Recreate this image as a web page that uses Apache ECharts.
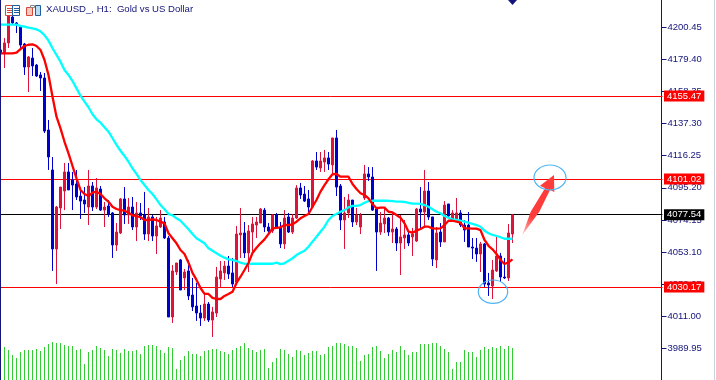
<!DOCTYPE html>
<html>
<head>
<meta charset="utf-8">
<title>XAUUSD H1</title>
<style>
  html, body { margin: 0; padding: 0; background: #fff; }
  #chart { width: 716px; height: 380px; }
</style>
<script src="https://cdn.jsdelivr.net/npm/echarts@6/dist/echarts.min.js"></script>
</head>
<body>
<div id="chart"></div>
<script>
const titleText = 'XAUUSD_, H1:  Gold vs US Dollar';
const tickValues = [4200.45, 4179.40, 4158.35, 4137.30, 4116.25, 4095.20, 4074.15, 4053.10, 4032.05, 4011.00, 3989.95];
const redLevels = [4155.47, 4101.02, 4030.17];
const lastPrice = 4077.54;

// [open, close, low, high]
const candles = [
  [4185.6,4183.6,4183.6,4185.6],[4183.6,4190.2,4173.8,4193.4],[4190.2,4207.9,4186.9,4209.2],[4207.2,4203.3,4202.6,4208.5],
  [4203.3,4202.0,4196.7,4203.9],[4200.6,4188.8,4186.9,4201.3],[4189.5,4174.4,4169.2,4190.2],[4174.4,4181.0,4158.0,4181.6],
  [4180.3,4175.1,4168.5,4186.9],[4175.7,4168.5,4167.9,4176.4],[4169.2,4167.2,4158.7,4171.1],[4167.2,4132.4,4131.1,4170.5],
  [4133.1,4115.4,4106.9,4139.7],[4106.9,4055.1,4040.7,4115.4],[4055.1,4082.6,4032.1,4083.3],[4082.0,4095.7,4068.2,4095.7],
  [4093.1,4105.6,4080.6,4111.5],[4105.6,4093.8,4093.8,4111.5],[4100.3,4097.0,4080.6,4105.6],[4097.7,4089.2,4087.2,4106.9],
  [4089.8,4086.5,4074.8,4093.8],[4087.2,4084.6,4078.7,4095.7],[4082.6,4096.4,4070.8,4106.9],[4096.4,4082.6,4080.0,4099.0],
  [4082.6,4095.1,4081.3,4101.6],[4094.4,4080.6,4080.0,4096.4],[4080.6,4082.6,4069.5,4085.9],[4083.3,4078.0,4076.1,4087.2],
  [4078.7,4057.7,4049.2,4079.3],[4057.7,4066.2,4053.8,4072.1],[4065.6,4087.9,4064.9,4088.5],[4087.9,4077.4,4071.5,4095.7],
  [4077.4,4082.6,4071.5,4088.5],[4082.6,4069.5,4067.5,4089.2],[4069.5,4078.7,4060.3,4085.9],[4078.7,4076.7,4074.1,4085.2],
  [4077.4,4064.9,4061.0,4092.5],[4064.9,4076.1,4060.3,4082.0],[4076.1,4063.6,4060.3,4077.4],[4063.6,4070.2,4051.8,4076.1],
  [4069.5,4075.4,4068.9,4080.6],[4072.8,4062.3,4061.6,4076.1],[4062.3,4010.5,4010.5,4063.6],[4010.5,4040.7,4006.6,4044.6],
  [4040.0,4045.9,4038.0,4045.9],[4047.9,4028.2,4028.2,4048.5],[4036.1,4040.0,4028.2,4042.0],[4040.7,4024.3,4021.6,4047.9],
  [4024.9,4017.1,4014.4,4036.1],[4017.7,4013.1,4007.9,4032.8],[4013.1,4009.8,4004.6,4018.4],[4009.8,4019.0,4007.9,4026.2],
  [4019.0,4008.5,4007.2,4020.3],[4008.5,4013.8,3997.4,4017.1],[4013.1,4036.7,4010.5,4043.3],[4035.4,4040.7,4030.2,4047.2],
  [4039.4,4043.9,4034.8,4047.2],[4043.9,4038.7,4035.4,4050.5],[4039.4,4032.1,4030.2,4049.2],[4033.4,4064.9,4032.8,4070.2],
  [4064.3,4065.6,4049.2,4082.0],[4065.6,4052.5,4049.2,4072.8],[4052.5,4066.9,4040.0,4070.8],[4066.2,4071.5,4052.5,4076.1],
  [4070.8,4072.8,4062.3,4076.1],[4072.1,4081.3,4072.1,4082.0],[4080.6,4069.5,4066.2,4082.0],[4069.5,4066.9,4064.9,4072.1],
  [4066.9,4077.4,4065.6,4078.0],[4077.4,4068.9,4068.2,4078.7],[4069.5,4058.4,4055.7,4072.8],[4058.4,4075.4,4055.1,4080.6],
  [4076.1,4066.2,4065.6,4078.7],[4066.2,4075.4,4064.9,4078.0],[4075.4,4095.1,4074.8,4097.0],[4095.1,4090.5,4087.9,4098.4],
  [4091.1,4086.5,4085.9,4096.4],[4087.9,4082.6,4078.7,4093.8],[4082.6,4112.8,4082.0,4113.4],[4112.8,4108.8,4106.9,4118.7],
  [4108.2,4112.8,4105.6,4118.7],[4112.1,4114.8,4105.6,4120.0],[4114.8,4110.8,4106.9,4118.7],[4110.2,4127.9,4104.9,4127.9],
  [4127.9,4095.7,4089.8,4133.1],[4096.4,4074.1,4067.5,4097.7],[4074.1,4078.7,4055.1,4089.2],[4078.7,4087.2,4075.4,4091.1],
  [4087.2,4072.8,4069.5,4087.2],[4072.8,4077.4,4070.8,4082.0],[4069.5,4077.4,4064.9,4078.7],[4088.5,4104.3,4087.2,4110.2],
  [4104.3,4102.3,4099.7,4108.8],[4102.3,4080.6,4080.0,4108.8],[4081.3,4066.2,4040.7,4082.0],[4066.2,4072.1,4064.3,4079.3],
  [4071.5,4075.4,4065.6,4082.0],[4075.4,4066.2,4063.6,4076.1],[4066.2,4068.2,4059.0,4079.3],[4068.2,4059.0,4053.8,4069.5],
  [4059.0,4063.0,4038.0,4077.4],[4062.3,4064.3,4055.1,4074.1],[4064.3,4059.0,4057.0,4066.2],[4063.0,4064.9,4050.5,4068.9],
  [4060.3,4081.3,4059.7,4082.0],[4081.3,4079.3,4068.9,4095.7],[4079.3,4093.1,4069.5,4106.9],[4093.1,4076.1,4074.1,4099.0],
  [4076.1,4048.5,4043.9,4076.1],[4047.9,4065.6,4042.6,4069.5],[4066.2,4059.7,4056.4,4072.1],[4059.7,4083.9,4059.7,4086.5],
  [4084.6,4076.7,4076.1,4084.6],[4074.1,4078.7,4072.8,4080.6],[4074.8,4078.7,4074.1,4088.5],[4078.7,4070.8,4069.5,4080.6],
  [4070.8,4067.5,4059.7,4074.1],[4070.8,4056.4,4056.4,4079.3],[4056.4,4055.7,4048.5,4062.3],[4055.7,4051.8,4046.6,4062.3],
  [4051.8,4058.4,4040.0,4059.7],[4058.4,4032.1,4030.2,4059.0],[4032.8,4031.5,4024.3,4039.4],[4030.8,4041.3,4022.3,4047.9],
  [4040.7,4050.5,4040.0,4063.0],[4050.5,4036.7,4033.4,4052.5],[4036.7,4036.1,4035.4,4049.2],[4036.1,4065.6,4034.1,4071.5],
  [4064.9,4077.54,4059.0,4077.54]
];

const redMa = [
  4183.4,4183.4,4183.4,4183.4,4183.8,4186.2,4188.2,4189.0,4189.3,4188.2,4185.6,4179.0,4169.2,4154.9,4141.8,4134.2,
  4125.4,4117.8,4109.5,4101.4,4093.8,4091.1,4089.8,4092.0,4092.7,4091.1,4088.3,4086.1,4082.8,4081.3,4080.6,4080.2,
  4078.9,4077.2,4076.7,4075.9,4074.1,4074.1,4074.5,4074.1,4073.0,4071.9,4065.4,4062.1,4058.8,4054.4,4051.8,4046.1,
  4039.4,4034.8,4029.5,4025.6,4025.6,4023.0,4022.3,4022.3,4024.3,4025.6,4027.1,4032.8,4036.9,4041.3,4045.9,4052.5,
  4055.9,4058.8,4061.4,4064.9,4068.6,4069.0,4069.3,4070.8,4070.8,4071.3,4073.0,4075.2,4076.7,4078.0,4082.8,4087.2,
  4092.7,4097.0,4100.8,4104.1,4104.3,4102.5,4102.5,4102.5,4097.7,4094.4,4091.6,4090.5,4088.3,4084.6,4081.8,4082.2,
  4082.2,4079.5,4079.1,4077.4,4075.6,4071.9,4066.4,4065.8,4067.1,4068.2,4069.7,4069.7,4068.6,4068.4,4068.6,4070.8,
  4073.6,4073.6,4073.0,4072.3,4068.6,4068.6,4068.4,4068.4,4067.5,4061.0,4057.2,4054.9,4051.8,4047.9,4045.2,4046.4,
  4048.3
];

const cyanMa = [
  4202.2,4202.2,4202.2,4202.2,4202.2,4201.3,4200.9,4200.2,4199.8,4199.1,4197.8,4195.2,4191.7,4186.7,4182.3,4177.9,
  4172.4,4169.2,4165.2,4160.4,4155.6,4151.7,4148.0,4143.4,4140.1,4137.9,4134.9,4132.0,4127.7,4123.3,4119.5,4116.1,
  4112.3,4108.0,4104.3,4100.3,4097.0,4093.8,4091.1,4087.6,4083.9,4081.1,4078.0,4077.2,4075.2,4073.6,4070.8,4068.0,
  4064.9,4062.1,4060.5,4058.8,4055.5,4053.9,4052.3,4050.7,4049.4,4048.3,4047.9,4047.2,4046.1,4045.4,4045.2,4045.4,
  4045.4,4045.4,4045.4,4045.4,4045.4,4046.1,4045.2,4045.7,4047.4,4049.0,4051.1,4052.6,4053.9,4056.6,4059.9,4063.1,
  4066.4,4069.7,4074.1,4076.7,4078.0,4079.5,4080.6,4082.4,4083.3,4083.3,4083.9,4085.4,4086.5,4086.7,4086.7,4086.7,
  4086.7,4086.7,4086.4,4086.1,4086.1,4085.9,4085.4,4084.8,4084.8,4084.6,4083.9,4082.8,4081.1,4079.5,4078.5,4076.7,
  4075.6,4074.5,4074.1,4073.6,4073.0,4072.3,4071.5,4070.8,4069.7,4067.1,4065.4,4064.3,4063.6,4062.8,4061.8,4061.8,
  4061.8
];

const volumes = [
  null,33,30,25,22,28,30,30,30,31,29,33,36,38,37,37,35,34,34,30,31,16,28,30,34,32,30,24,31,30,27,31,29,29,30,26,34,35,35,34,30,27,33,32,11,
  20,24,29,26,26,24,29,30,31,31,29,28,26,30,32,34,37,32,30,28,30,31,12,18,22,31,30,26,23,30,29,25,27,29,29,25,26,33,34,37,37,36,34,34,32,
  19,25,26,33,34,29,22,26,30,28,34,30,25,28,28,36,36,36,37,37,34,31,28,11,18,18,30,28,28,23,30,33,31,33,32,34,31,34,32
];

// empty slots keep the room to the right of the last bar
const slots = Array.from({ length: 166 }, (_, i) => i);

const navy = '#14147a';
const uiFont = '"Liberation Sans", sans-serif';

function priceLine(value, color) {
  return {
    yAxis: value,
    lineStyle: { color: color, width: 1, type: 'solid' },
    label: {
      show: true,
      position: 'end',
      distance: 1.5,
      formatter: value.toFixed(2),
      color: '#fff',
      backgroundColor: color,
      padding: [1, 3, 0, 3],
      fontFamily: uiFont,
      fontSize: 9.5,
      lineHeight: 10
    }
  };
}

const chart = echarts.init(document.getElementById('chart'));

chart.setOption({
  animation: false,
  backgroundColor: '#fff',
  title: {
    text: titleText,
    left: 46,
    top: 4,
    padding: 0,
    textStyle: { color: navy, fontFamily: uiFont, fontSize: 9.6, fontWeight: 'normal' }
  },
  grid: [
    { left: -1.5, top: 0, width: 664, height: 380, outerBoundsMode: 'none' },
    { left: -1.5, top: 330, width: 664, height: 50, outerBoundsMode: 'none' }
  ],
  xAxis: [
    { type: 'category', data: slots, gridIndex: 0, show: false },
    { type: 'category', data: slots, gridIndex: 1, show: false }
  ],
  yAxis: [
    {
      type: 'value',
      gridIndex: 0,
      position: 'right',
      offset: -1,
      min: 3969.18,
      max: 4218.35,
      splitLine: { show: false },
      axisLine: { show: true, lineStyle: { color: navy, width: 1 } },
      axisTick: { show: true, length: 5, customValues: tickValues, lineStyle: { color: navy, width: 1 } },
      axisLabel: {
        show: true,
        margin: 6,
        customValues: tickValues,
        formatter: (v) => v.toFixed(2),
        color: navy,
        fontFamily: uiFont,
        fontSize: 9.5
      }
    },
    { type: 'value', gridIndex: 1, min: 0, max: 50, show: false }
  ],
  series: [
    {
      name: 'levels',
      type: 'line',
      data: [],
      symbol: 'none',
      markLine: {
        silent: true,
        symbol: 'none',
        z: 1,
        data: redLevels.map((v) => priceLine(v, '#ff0000')).concat([priceLine(lastPrice, '#000000')])
      }
    },
    {
      name: 'XAUUSD',
      type: 'candlestick',
      data: candles,
      barWidth: 2,
      z: 2,
      itemStyle: {
        color: '#dc143c',
        color0: '#0000cd',
        borderColor: '#dc143c',
        borderColor0: '#0000cd',
        borderWidth: 1
      }
    },
    {
      name: 'MA slow',
      type: 'line',
      data: cyanMa,
      symbol: 'none',
      z: 3,
      lineStyle: { color: '#00ffff', width: 2.3 }
    },
    {
      name: 'MA fast',
      type: 'line',
      data: redMa,
      symbol: 'none',
      z: 4,
      lineStyle: { color: '#ff0000', width: 2.3 }
    },
    {
      name: 'Volume',
      type: 'bar',
      xAxisIndex: 1,
      yAxisIndex: 1,
      data: volumes,
      barWidth: 1,
      itemStyle: { color: '#32cd32' }
    }
  ],
  graphic: [
    // window edges
    { type: 'rect', shape: { x: 0, y: 0, width: 1, height: 380 }, style: { fill: navy }, z: 20 },
    { type: 'rect', shape: { x: 714, y: 0, width: 1, height: 380 }, style: { fill: '#c9d3dd' }, z: 20 },
    // chart-window icons
    { type: 'rect', shape: { x: 5, y: 5, width: 15, height: 11 }, style: { fill: '#fff' }, z: 20 },
    { type: 'rect', shape: { x: 5.5, y: 5.5, width: 7, height: 10 }, style: { fill: 'none', stroke: '#d8453a' }, z: 21 },
    { type: 'rect', shape: { x: 12.5, y: 5.5, width: 7, height: 10 }, style: { fill: 'none', stroke: '#1f5f9f' }, z: 21 },
    { type: 'rect', shape: { x: 7, y: 8, width: 5, height: 1 }, style: { fill: '#d8453a' }, z: 21 },
    { type: 'rect', shape: { x: 7, y: 10, width: 5, height: 1 }, style: { fill: '#d8453a' }, z: 21 },
    { type: 'rect', shape: { x: 7, y: 12, width: 5, height: 1 }, style: { fill: '#d8453a' }, z: 21 },
    { type: 'rect', shape: { x: 14, y: 8, width: 5, height: 1 }, style: { fill: '#1f5f9f' }, z: 21 },
    { type: 'rect', shape: { x: 14, y: 10, width: 5, height: 1 }, style: { fill: '#1f5f9f' }, z: 21 },
    { type: 'rect', shape: { x: 14, y: 12, width: 5, height: 1 }, style: { fill: '#1f5f9f' }, z: 21 },
    { type: 'rect', shape: { x: 26.5, y: 7.5, width: 6, height: 8 }, style: { fill: '#f7c9bc', stroke: '#d8453a' }, z: 21 },
    { type: 'rect', shape: { x: 35.5, y: 5.5, width: 5, height: 10 }, style: { fill: '#bcdcf2', stroke: '#1f5f9f' }, z: 21 },
    { type: 'rect', shape: { x: 30.5, y: 5.5, width: 4, height: 2 }, style: { fill: '#fff', stroke: '#888' }, z: 21 },
    // period marker on the top edge
    { type: 'polygon', shape: { points: [[508, 0], [517, 0], [512.5, 5]] }, style: { fill: '#14147a' }, z: 20 },
    // annotations
    {
      type: 'polygon',
      shape: { points: [[522.3, 235], [530.7, 211.7], [545, 188.3], [540, 185.7], [554, 175], [554.3, 192], [550, 190], [539.3, 211.7]] },
      style: {
        fill: new echarts.graphic.LinearGradient(0, 1, 1, 0, [
          { offset: 0, color: 'rgba(255,60,60,0.3)' },
          { offset: 0.3, color: '#ff3c3c' },
          { offset: 1, color: '#ff3c3c' }
        ])
      },
      z: 20
    },
    { type: 'ellipse', shape: { cx: 550, cy: 177.5, rx: 16, ry: 12.5 }, style: { fill: 'none', stroke: '#4fb4f5', lineWidth: 1.2 }, z: 21 },
    { type: 'ellipse', shape: { cx: 493, cy: 291.7, rx: 14.7, ry: 11.7 }, style: { fill: 'none', stroke: '#4fb4f5', lineWidth: 1.2 }, z: 21 }
  ]
});

window.addEventListener('resize', () => chart.resize());
</script>
</body>
</html>
